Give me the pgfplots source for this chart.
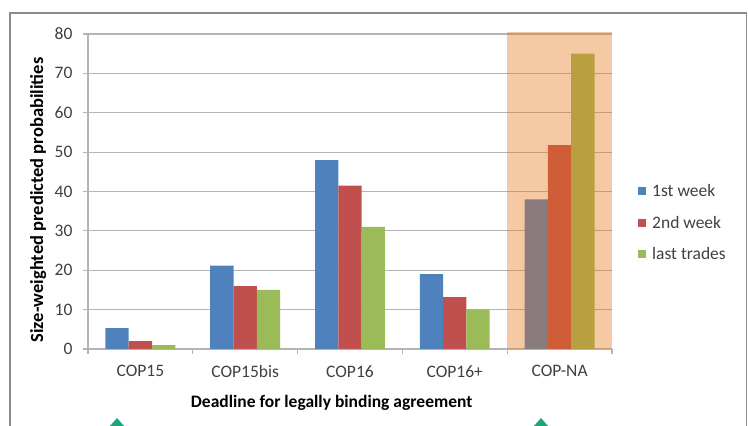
\documentclass[border=0pt]{standalone}
\usepackage{pgfplots}
\pgfplotsset{compat=1.18}
\usepackage{fontspec}
\setmainfont{Carlito}
\definecolor{cblue}{HTML}{4F81BD}
\definecolor{cred}{HTML}{C0504D}
\definecolor{cgreen}{HTML}{9BBB59}
\definecolor{ctext}{HTML}{404040}
\definecolor{cgrid}{HTML}{B4B4B4}
\definecolor{cframe}{HTML}{8C8C8C}
\definecolor{cover}{RGB}{232,116,24}
\definecolor{cdiam}{HTML}{1BA57A}
\pgfplotsset{sqlegend/.style={legend image code/.code={\fill[##1,draw=none] (0pt,-4pt) rectangle (8pt,4pt); \path (12pt,0pt);}}}
\begin{document}
\begin{tikzpicture}[x=1pt,y=1pt]
\path[use as bounding box] (0,0) rectangle (748,426);
\draw[cframe,line width=1.5pt] (10,-2) -- (10,413) -- (746.5,413) -- (746.5,-2);
\fill[cdiam] (110,0) -- (117,8) -- (124,0) -- cycle;
\fill[cdiam] (534,0) -- (541,8) -- (548,0) -- cycle;
\begin{axis}[
  at={(88pt,77pt)}, anchor=south west,
  scale only axis, width=524pt, height=315pt,
  xmin=-0.5, xmax=4.5, ymin=0, ymax=80,
  axis x line*=bottom, axis y line*=left,
  axis line style={cgrid, line width=1.2pt, -},
  xtick={0,1,2,3,4},
  xticklabels={COP15,COP15bis,COP16,COP16+,COP-NA},
  minor xtick={-0.5,0.5,1.5,2.5,3.5,4.5},
  ytick={0,10,...,80},
  tick align=outside,
  major tick length=5pt, minor tick length=5pt,
  x tick style={draw=none},
  minor x tick style={draw=cgrid, line width=1.2pt},
  y tick style={draw=cgrid, line width=1.2pt},
  ymajorgrids=true,
  grid style={cgrid, line width=1.2pt},
  /pgf/number format/assume math mode=true,
  tick label style={font=\fontsize{17.5}{21}\selectfont, text=ctext},
  xticklabel style={yshift=-8pt},
  yticklabel style={xshift=-7pt},
  xlabel={\textbf{Deadline for legally binding agreement}},
  ylabel={\textbf{Size-weighted predicted probabilities}},
  label style={font=\fontsize{17.5}{21}\selectfont},
  xlabel style={at={(rel axis cs:0.465,-0.172)}, anchor=center},
  ylabel style={at={(rel axis cs:-0.095,0.473)}, anchor=center, font=\fontsize{18.5}{22}\selectfont},
  legend style={at={(1.0496,0.53)}, anchor=north west, draw=none, fill=none,
    font=\fontsize{17.5}{21}\selectfont, text=ctext, row sep=14pt, inner sep=0pt},
  legend cell align=left,
  clip=false,
]
\addplot[ybar, bar width=23.3pt, bar shift=-23.3pt, fill=cblue, draw=none, sqlegend]
  coordinates {(0,5.3) (1,21.2) (2,48) (3,19) (4,38)};
\addplot[ybar, bar width=23.3pt, bar shift=0pt, fill=cred, draw=none, sqlegend]
  coordinates {(0,2) (1,16) (2,41.5) (3,13.2) (4,51.8)};
\addplot[ybar, bar width=23.3pt, bar shift=23.3pt, fill=cgreen, draw=none, sqlegend]
  coordinates {(0,1) (1,15) (2,31) (3,10) (4,75)};
\legend{1st week,2nd week,last trades}
\addplot[draw=none, fill=cover, fill opacity=0.39, forget plot]
  coordinates {(3.5,0) (3.5,80.5) (4.5,80.5) (4.5,0)} -- cycle;
\end{axis}
\end{tikzpicture}
\end{document}
